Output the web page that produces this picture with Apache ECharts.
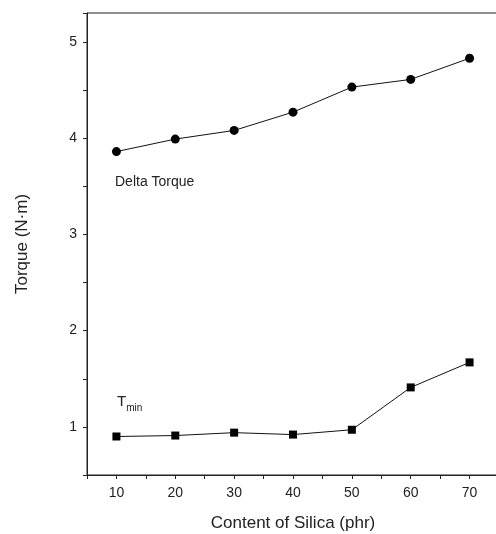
<!DOCTYPE html>
<html>
<head>
<meta charset="utf-8">
<script src="https://cdn.jsdelivr.net/npm/echarts@6/dist/echarts.min.js"></script>
<style>
html,body{margin:0;padding:0;background:#fff;}
#main{width:496px;height:534px;}
</style>
</head>
<body>
<div id="main"></div>
<script>
// silica content (phr)
var silica = [10, 20, 30, 40, 50, 60, 70];
// torque values
var deltaTorque = [3.86, 3.99, 4.08, 4.27, 4.53, 4.61, 4.83];
var tMin = [0.90, 0.91, 0.94, 0.92, 0.97, 1.41, 1.67];

function pairs(ys){
	var out = [];
	for(var i in silica){
		out.push([silica[i], ys[i]]);
	}
	return out;
}

var myChart = echarts.init(document.getElementById('main'));
var font = 'Liberation Sans, Arial, sans-serif';
var option = {
	animation:false,
	grid:{
		left:87,
		top:13,
		width:412,
		bottom:59,
		outerBoundsMode:'none',
		containLabel:false,
		show:true,
		borderColor:'#222',
		borderWidth:1
	},
	xAxis:{
		type:'value',
		min:5,
		max:75,
		interval:5,
		name:'Content of Silica (phr)',
		nameLocation:'middle',
		nameGap:40,
		nameTextStyle:{fontFamily:font,fontSize:17,color:'#222'},
		axisLine:{lineStyle:{color:'#222',width:1}},
		axisTick:{length:4,lineStyle:{color:'#222'}},
		splitLine:{show:false},
		axisLabel:{
			fontFamily:font,fontSize:14,color:'#222',margin:11,
			formatter:function(v){ return (v%10==0)?String(v):''; }
		}
	},
	yAxis:{
		type:'value',
		min:0.5,
		max:5.3,
		interval:0.5,
		name:'Torque (N·m)',
		nameLocation:'middle',
		nameGap:56,
		nameTextStyle:{fontFamily:font,fontSize:17,color:'#222'},
		axisLine:{lineStyle:{color:'#222',width:1}},
		axisTick:{length:4,lineStyle:{color:'#222'}},
		splitLine:{show:false},
		axisLabel:{
			fontFamily:font,fontSize:14,color:'#222',margin:10,
			formatter:function(v){ return (Math.abs(v-Math.round(v))<1e-6)?String(Math.round(v)):''; }
		}
	},
	series:[
		{
			name:'Delta Torque',
			type:'line',
			data:pairs(deltaTorque),
			symbol:'circle',
			symbolSize:9,
			lineStyle:{color:'#111',width:1},
			itemStyle:{color:'#000'}
		},
		{
			name:'Tmin',
			type:'line',
			data:pairs(tMin),
			symbol:'rect',
			symbolSize:8,
			lineStyle:{color:'#111',width:1},
			itemStyle:{color:'#000'}
		}
	],
	graphic:[
		{
			type:'text',left:115,top:175,
			style:{text:'Delta Torque',fontFamily:font,fontSize:14,fill:'#222'}
		},
		{
			type:'text',left:117,top:394,
			style:{
				text:'{t|T}{s|min}',
				fill:'#222',
				rich:{
					t:{fontFamily:font,fontSize:15,fill:'#222',verticalAlign:'top'},
					s:{fontFamily:font,fontSize:10,fill:'#222',padding:[9,0,0,0]}
				}
			}
		}
	]
};
myChart.setOption(option, true);
</script>
</body>
</html>
